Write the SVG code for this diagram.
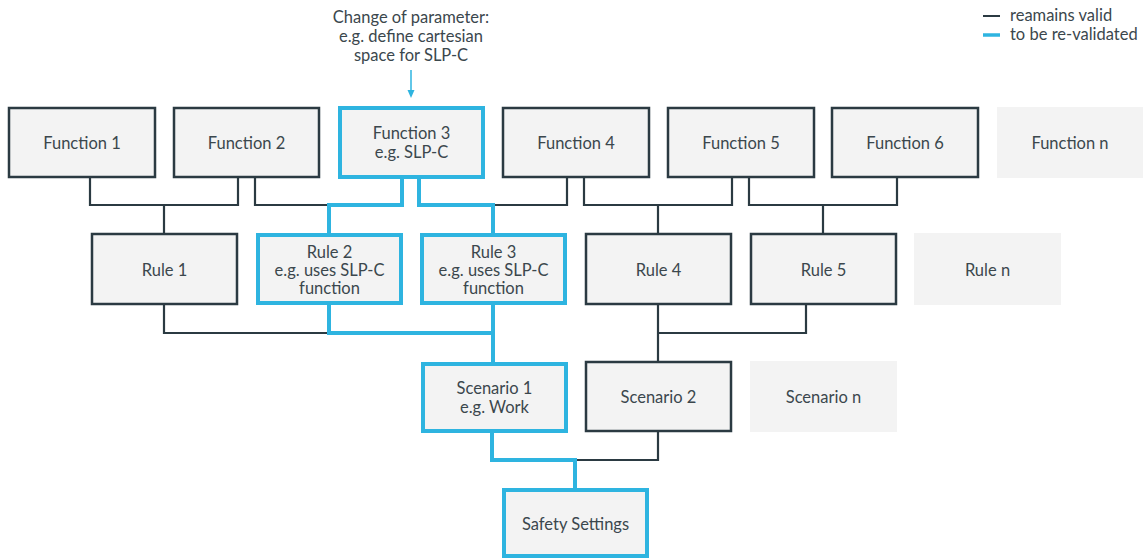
<svg xmlns="http://www.w3.org/2000/svg" width="1145" height="558" viewBox="0 0 1145 558">
<style>
text{font-family:Lato,"Open Sans","Liberation Sans",sans-serif;font-size:16.5px;fill:#3b474d;text-anchor:middle}
.b{fill:#f3f3f3;stroke:#2b3a42;stroke-width:2.5}
.h{fill:#f3f3f3;stroke:#2eb4e0;stroke-width:4}
.g{fill:#f3f3f3;stroke:none}
.d{fill:none;stroke:#2b3a42;stroke-width:2.2}
.c{fill:none;stroke:#2eb4e0;stroke-width:4}
.lg{text-anchor:start}
</style>
<g id="connectors">
<path class="d" d="M90,177 V205 H238 V177 M164,205 V234"/>
<path class="d" d="M255,177 V205 H330"/>
<path class="d" d="M567,177 V205 H492"/>
<path class="d" d="M584,177 V205 H732 V177 M658,205 V234"/>
<path class="d" d="M749,177 V205 H897 V177 M823,205 V234"/>
<path class="d" d="M164,304 V333 H330"/>
<path class="d" d="M658,304 V362 M658,333 H806 V304"/>
<path class="d" d="M658,431 V460 H575"/>
<path class="c" d="M402,177 V205 H329 V234"/>
<path class="c" d="M419,177 V205 H493 V234"/>
<path class="c" d="M329,304 V333 H493 M493,304 V363"/>
<path class="c" d="M492,431 V460 H575 V489"/>
<line x1="411" y1="70" x2="411" y2="92" stroke="#2eb4e0" stroke-width="1.5"/>
<path d="M407.5,90 L411,98 L414.5,90 Z" fill="#2eb4e0"/>
</g>
<g id="annotation">
<text x="411" y="23">Change of parameter:</text>
<text x="411" y="42">e.g. define cartesian</text>
<text x="411" y="61">space for SLP-C</text>
</g>
<g id="legend">
<line x1="983" y1="16" x2="1000" y2="16" stroke="#2b3a42" stroke-width="2"/>
<line x1="983" y1="35" x2="1000" y2="35" stroke="#2eb4e0" stroke-width="3.5"/>
<text class="lg" x="1010" y="21">reamains valid</text>
<text class="lg" x="1010" y="40">to be re-validated</text>
</g>
<g id="f1"><rect class="b" x="9" y="108" width="146" height="69"/><text x="82" y="149">Function 1</text></g>
<g id="f2"><rect class="b" x="174" y="108" width="145" height="69"/><text x="246.5" y="149">Function 2</text></g>
<g id="f3"><rect class="h" x="340" y="108" width="143" height="69"/><text x="411.5" y="139">Function 3</text><text x="411.5" y="158">e.g. SLP-C</text></g>
<g id="f4"><rect class="b" x="503" y="108" width="146" height="69"/><text x="576" y="149">Function 4</text></g>
<g id="f5"><rect class="b" x="668" y="108" width="146" height="69"/><text x="741" y="149">Function 5</text></g>
<g id="f6"><rect class="b" x="832" y="108" width="146" height="69"/><text x="905" y="149">Function 6</text></g>
<g id="fn"><rect class="g" x="997" y="107" width="146" height="71"/><text x="1070" y="149">Function n</text></g>
<g id="r1"><rect class="b" x="92" y="234" width="145" height="70"/><text x="164.5" y="276">Rule 1</text></g>
<g id="r2"><rect class="h" x="258" y="235" width="143" height="68"/><text x="329.5" y="258">Rule 2</text><text x="329.5" y="276">e.g. uses SLP-C</text><text x="329.5" y="294">function</text></g>
<g id="r3"><rect class="h" x="422" y="235" width="143" height="68"/><text x="493.5" y="258">Rule 3</text><text x="493.5" y="276">e.g. uses SLP-C</text><text x="493.5" y="294">function</text></g>
<g id="r4"><rect class="b" x="586" y="234" width="145" height="70"/><text x="658.5" y="276">Rule 4</text></g>
<g id="r5"><rect class="b" x="751" y="234" width="145" height="70"/><text x="823.5" y="276">Rule 5</text></g>
<g id="rn"><rect class="g" x="914" y="233" width="147" height="72"/><text x="987.5" y="276">Rule n</text></g>
<g id="s1"><rect class="h" x="423" y="364" width="143" height="67"/><text x="494.5" y="394">Scenario 1</text><text x="494.5" y="413">e.g. Work</text></g>
<g id="s2"><rect class="b" x="586" y="362" width="145" height="69"/><text x="658.5" y="403">Scenario 2</text></g>
<g id="sn"><rect class="g" x="750" y="361" width="147" height="71"/><text x="823.5" y="403">Scenario n</text></g>
<g id="safety"><rect class="h" x="504" y="490" width="143" height="66"/><text x="575.5" y="530">Safety Settings</text></g>
</svg>
